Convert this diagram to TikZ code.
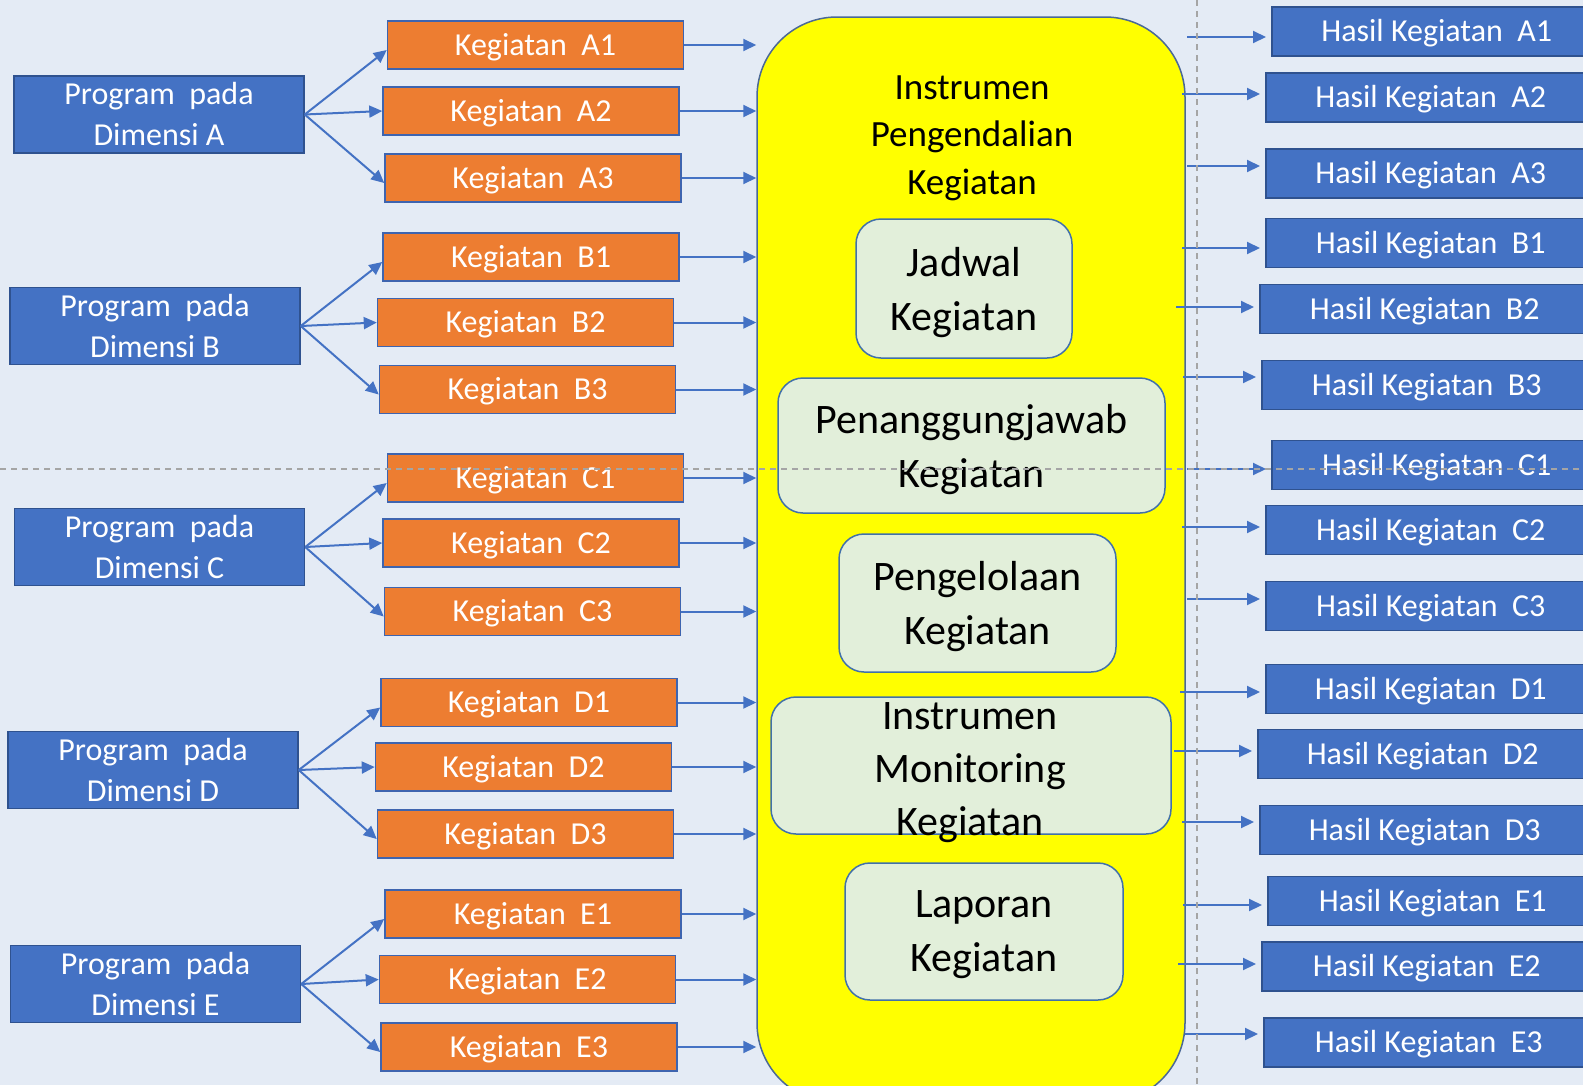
\documentclass[tikz,border=0pt]{standalone}
\usepackage{fontspec}
\setmainfont{Carlito}
\usetikzlibrary{arrows.meta}
\definecolor{bgc}{RGB}{228,235,245}
\definecolor{pblue}{RGB}{68,114,196}
\definecolor{pborder}{RGB}{47,82,143}
\definecolor{korange}{RGB}{237,125,49}
\definecolor{kborder}{RGB}{62,100,175}
\definecolor{igreen}{RGB}{226,239,218}
\definecolor{iborder}{RGB}{65,113,170}
\definecolor{yel}{RGB}{255,255,0}
\definecolor{yborder}{RGB}{75,105,150}
\definecolor{arrc}{RGB}{68,114,196}
\definecolor{dashc}{RGB}{165,165,165}
\begin{document}
\begin{tikzpicture}[x=1pt,y=-1pt,
 pbox/.style={draw=pborder, fill=pblue, line width=1.5pt, minimum width=290pt, minimum height=77pt, inner sep=0pt, text=white, align=center, font=\fontsize{32}{41}\selectfont},
 kbox/.style={draw=kborder, fill=korange, line width=1.5pt, minimum width=296pt, minimum height=48pt, inner sep=0pt, text=white, text height=21pt, text depth=1pt, font=\fontsize{32}{38}\selectfont},
 hbox/.style={draw=pborder, fill=pblue, line width=1.5pt, minimum width=330pt, minimum height=49pt, inner sep=0pt, text=white, text height=21pt, text depth=1pt, font=\fontsize{32}{38}\selectfont},
 ibox/.style={draw=iborder, fill=igreen, line width=1.5pt, rounded corners=25pt, inner sep=0pt, align=center, text depth=0pt, font=\fontsize{42}{54}\selectfont},
 ilabel/.style={inner sep=0pt, align=center, font=\fontsize{42}{53}\selectfont},
 ybox/.style={draw=yborder, fill=yel, line width=1.5pt, rounded corners=80pt, inner sep=0pt},
 tlabel/.style={inner sep=0pt, align=center, font=\fontsize{37}{47.5}\selectfont},
 arr/.style={draw=arrc, line width=2pt, -{Triangle[length=13pt,width=12pt]}},
 dashln/.style={draw=dashc, line width=1.5pt, dash pattern=on 6pt off 5pt},
]
\path[use as bounding box, fill=bgc] (0,0) rectangle (1583,1085);
\clip (0,0) rectangle (1583,1085);

% central yellow container
\node[ybox, minimum width=428pt, minimum height=1086pt] (Y) at (971,560) {};
\node[tlabel] (T) at (972,138) {Instrumen\\Pengendalian\\Kegiatan};

% inner boxes
\node[ibox, minimum width=216pt, minimum height=139pt] (IJ) at (964,288.5) {Jadwal\\Kegiatan};
\node[ibox, minimum width=387pt, minimum height=135pt] (IP) at (971.5,445.5) {Penanggungjawab\\Kegiatan};
\node[ibox, minimum width=277pt, minimum height=138pt] (IG) at (977.5,603) {Pengelolaan\\Kegiatan};
\node[ibox, minimum width=400pt, minimum height=137pt] (IM) at (971,765.5) {};
\node[ilabel] (IMt) at (970,772.5) {Instrumen\\Monitoring\\Kegiatan};
\node[ibox, minimum width=278pt, minimum height=137pt] (IL) at (984,931.5) {Laporan\\Kegiatan};

% program boxes
\foreach \d/\x/\y in {A/159/114.5, B/155/326, C/159.5/547, D/153/770, E/155.5/984}
  \node[pbox] (P\d) at (\x,\y) {Program\ \ pada\\Dimensi \d};

% kegiatan boxes
\foreach \n/\x/\y in {A1/535.5/45, A2/531/111, A3/533/178,
                      B1/531/257, B2/525.5/322.5, B3/527.5/389.5,
                      C1/535.5/478, C2/531/543, C3/532.5/611.5,
                      D1/529/702.5, D2/523.5/767, D3/525.5/834,
                      E1/533/914, E2/527.5/979.5, E3/529/1047}
  \node[kbox] (K\n) at (\x,\y) {Kegiatan\ \ \n};

% hasil boxes
\foreach \n/\x/\y in {A1/1271/31.5, A2/1265/97.5, A3/1265/173.5,
                      B1/1265/243, B2/1259/309, B3/1261/385,
                      C1/1271/465, C2/1265/530, C3/1265/606,
                      D1/1265/689, D2/1257/754, D3/1259/830,
                      E1/1267/901, E2/1261/966.5, E3/1263/1042.5}
  \node[hbox, anchor=west] (H\n) at (\x,\y) {Hasil Kegiatan\ \ \n};

% program -> kegiatan
\foreach \d in {A,B,C,D,E} {
  \draw[arr] (P\d.east) -- ([yshift=-5pt]K\d1.west);
  \draw[arr] (P\d.east) -- (K\d2.west);
  \draw[arr] (P\d.east) -- ([yshift=-5pt]K\d3.west);
}

% kegiatan -> yellow
\foreach \n in {A1,A2,A3,B1,B2,B3,C1,C2,C3,D1,D2,D3,E1,E2,E3}
  \draw[arr] (K\n.east) -- (K\n.east -| Y.west);

% yellow -> hasil
\foreach \n/\x/\y in {A1/1187/37, A2/1182/94, A3/1187/166,
                      B1/1182/248, B2/1176/307, B3/1183/377,
                      C1/1187/469, C2/1182/527, C3/1187/599,
                      D1/1180/692, D2/1174/751, D3/1182/822,
                      E1/1183/905, E2/1178/964, E3/1185/1034} {
  \coordinate (r\n) at (\x,\y);
  \draw[arr, shorten >=5pt] (r\n) -- (r\n -| H\n.west);
}

% dashed guide lines
\coordinate (gl) at (0,469);
\coordinate (gr) at (1583,469);
\coordinate (gt) at (1197,0);
\coordinate (gb) at (1197,1085);
\draw[dashln] (gl) -- (gr);
\draw[dashln] (gt) -- (gb);
\end{tikzpicture}
\end{document}
